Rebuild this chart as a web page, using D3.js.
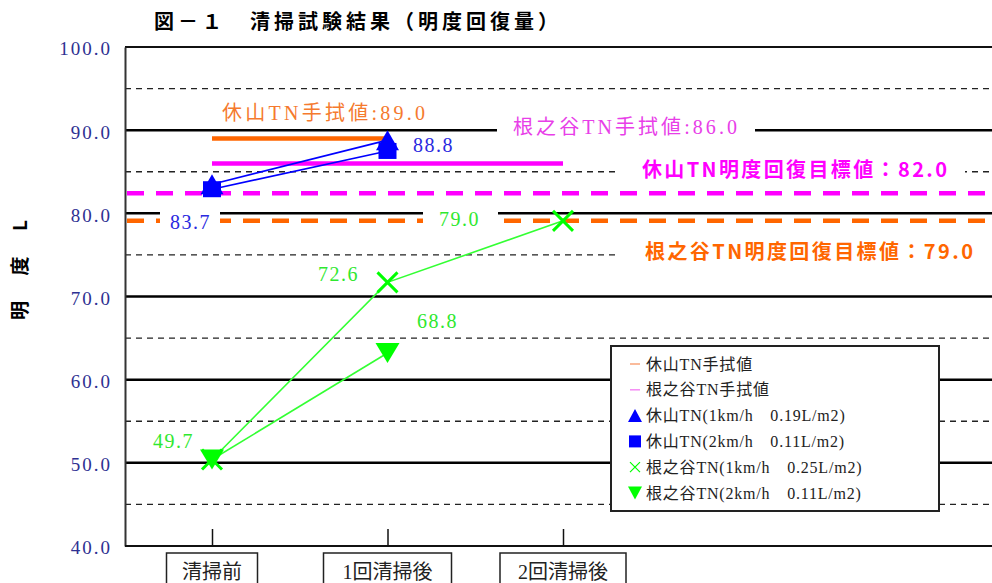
<!DOCTYPE html>
<html>
<head>
<meta charset="utf-8">
<script src="https://cdn.jsdelivr.net/npm/d3@7"></script>
<style>
  html, body { margin: 0; padding: 0; background: #fff; }
  svg { display: block; }
</style>
</head>
<body>
<svg id="chart" width="992" height="583"></svg>
<script>
// data
const categories = ['清掃前', '1回清掃後', '2回清掃後'];
const yTicks = [40, 50, 60, 70, 80, 90, 100];
const yMinor = [45, 55, 65, 75, 85, 95];

const kyuzan1km = [83.5, 88.8];        // 休山TN(1km/h 0.19L/m2)
const kyuzan2km = [82.9, 87.5];        // 休山TN(2km/h 0.11L/m2)
const nenotani1km = [50.4, 71.7, 79.1]; // 根之谷TN(1km/h 0.25L/m2)
const nenotani2km = [50.4, 63.2];      // 根之谷TN(2km/h 0.11L/m2)

const wipeNames = ['休山TN手拭値', '根之谷TN手拭値'];
const wipeValues = [89.0, 86.0];
const wipeSpan = [1, 2]; // last category index reached by each wipe line

const targetNames = ['休山TN明度回復目標値', '根之谷TN明度回復目標値'];
const targetValues = [82.4, 79.1];

const legendLabels = [
    '休山TN手拭値',
    '根之谷TN手拭値',
    '休山TN(1km/h　0.19L/m2)',
    '休山TN(2km/h　0.11L/m2)',
    '根之谷TN(1km/h　0.25L/m2)',
    '根之谷TN(2km/h　0.11L/m2)',
];

const serif = '"Liberation Serif", "Noto Sans CJK JP", serif';
const gothic = '"Noto Sans CJK JP", "DejaVu Sans", sans-serif';

const C = {
    orange: '#ff6600', orangeText: '#f57a2e', orangeLegend: '#f9a57a',
    magenta: '#ff00ff', magentaText: '#e83ee8', magentaLegend: '#f58cf5',
    blue: '#0000ff', blueText: '#2a2ae0',
    green: '#00ff00', greenLine: '#33ff33', greenText: '#2fe82f',
    navy: '#2e3192',
};

const svg = d3.select('#chart');
const plot = { left: 125, right: 992, top: 47, bottom: 546 };

const x = d3.scalePoint()
    .domain(categories)
    .range([212, 563]);

const y = d3.scaleLinear()
    .domain([40, 100])
    .range([plot.bottom, plot.top]);

// title
svg.append('text')
    .attr('x', 154).attr('y', 29)
    .attr('font-family', gothic)
    .attr('font-weight', 'bold')
    .attr('font-size', 20)
    .attr('textLength', 404)
    .attr('lengthAdjust', 'spacing')
    .text('図－１　清掃試験結果（明度回復量）');

// y title
svg.append('text')
    .attr('transform', 'translate(27, 270) rotate(-90)')
    .attr('text-anchor', 'middle')
    .attr('font-family', gothic)
    .attr('font-weight', 'bold')
    .attr('font-size', 19)
    .attr('textLength', 100)
    .attr('lengthAdjust', 'spacing')
    .text('明度L');

// grid
svg.append('g').selectAll('line')
    .data(yMinor)
    .join('line')
    .attr('x1', plot.left).attr('x2', plot.right)
    .attr('y1', d => y(d)).attr('y2', d => y(d))
    .attr('stroke', '#222')
    .attr('stroke-width', 1.3)
    .attr('stroke-dasharray', '6 5');

svg.append('g').selectAll('line')
    .data(yTicks.filter(d => d > 40 && d < 100))
    .join('line')
    .attr('x1', plot.left).attr('x2', plot.right)
    .attr('y1', d => y(d)).attr('y2', d => y(d))
    .attr('stroke', '#000')
    .attr('stroke-width', 2.5);

// top border
svg.append('line')
    .attr('x1', plot.left).attr('x2', plot.right)
    .attr('y1', plot.top).attr('y2', plot.top)
    .attr('stroke', '#111').attr('stroke-width', 2);

// target lines (dashed)
const targetColors = [C.magenta, C.orange];
svg.append('g').selectAll('line')
    .data(targetValues)
    .join('line')
    .attr('x1', plot.left + 2).attr('x2', plot.right)
    .attr('y1', d => y(d)).attr('y2', d => y(d))
    .attr('stroke', (d, i) => targetColors[i])
    .attr('stroke-width', 4.5)
    .attr('stroke-dasharray', '17 12');

// wipe reference lines
const wipeColors = [C.orange, C.magenta];
svg.append('g').selectAll('line')
    .data(wipeValues)
    .join('line')
    .attr('x1', x(categories[0]))
    .attr('x2', (d, i) => x(categories[wipeSpan[i]]))
    .attr('y1', d => y(d)).attr('y2', d => y(d))
    .attr('stroke', (d, i) => wipeColors[i])
    .attr('stroke-width', 4.5);

// text boxes (white fill hides grid behind them)
const boxes = [
    [160, 207, 60, 28],
    [423, 205, 75, 28],
    [497, 114, 258, 28],
    [620, 155, 345, 27],
    [620, 236, 372, 28],
];
svg.append('g').selectAll('rect')
    .data(boxes)
    .join('rect')
    .attr('x', d => d[0]).attr('y', d => d[1])
    .attr('width', d => d[2]).attr('height', d => d[3])
    .attr('fill', '#fff');

const label = (txt, lx, cy, color, opts = {}) => {
    const t = svg.append('text')
        .attr('x', lx).attr('y', cy)
        .attr('dominant-baseline', 'central')
        .attr('font-family', opts.bold ? gothic : serif)
        .attr('font-weight', opts.bold ? 'bold' : 'normal')
        .attr('font-size', opts.size || 20)
        .attr('fill', color)
        .text(txt);
    if (opts.w) t.attr('textLength', opts.w).attr('lengthAdjust', 'spacing');
    else t.attr('letter-spacing', opts.ls == null ? 1.5 : opts.ls);
    return t;
};

label(`${wipeNames[0]}:${wipeValues[0].toFixed(1)}`, 222, 113, C.orangeText, { w: 203 });
label(`${wipeNames[1]}:${wipeValues[1].toFixed(1)}`, 513, 127, C.magentaText, { w: 224 });
label(`${targetNames[0]}：82.0`, 642, 168, C.magenta, { bold: true, size: 20, w: 305 });
label(`${targetNames[1]}：79.0`, 645, 250, C.orange, { bold: true, size: 20, w: 328 });

// series lines
const line = d3.line()
    .x((d, i) => x(categories[i]))
    .y(d => y(d));

const series = [
    { vals: kyuzan1km, color: C.blue },
    { vals: kyuzan2km, color: C.blue },
    { vals: nenotani1km, color: C.greenLine },
    { vals: nenotani2km, color: C.greenLine },
];
svg.append('g').selectAll('path')
    .data(series)
    .join('path')
    .attr('d', d => line(d.vals))
    .attr('fill', 'none')
    .attr('stroke', d => d.color)
    .attr('stroke-width', 1.6);

// markers
const triUp = (w, h) => `M0,${-h / 2}L${w / 2},${h / 2}L${-w / 2},${h / 2}Z`;
const triDown = (w, h) => `M0,${h / 2}L${w / 2},${-h / 2}L${-w / 2},${-h / 2}Z`;

svg.append('g').selectAll('path')
    .data(kyuzan1km)
    .join('path')
    .attr('transform', (d, i) => `translate(${x(categories[i])},${y(d)})`)
    .attr('d', triUp(23, 20))
    .attr('fill', C.blue);

svg.append('g').selectAll('rect')
    .data(kyuzan2km)
    .join('rect')
    .attr('x', (d, i) => x(categories[i]) - 9)
    .attr('y', d => y(d) - 8)
    .attr('width', 18).attr('height', 16)
    .attr('fill', C.blue);

svg.append('g').selectAll('path')
    .data(nenotani2km)
    .join('path')
    .attr('transform', (d, i) => `translate(${x(categories[i])},${y(d)})`)
    .attr('d', triDown(24, 20))
    .attr('fill', C.green);

svg.append('g').selectAll('path')
    .data(nenotani1km)
    .join('path')
    .attr('transform', (d, i) => `translate(${x(categories[i])},${y(d)})`)
    .attr('d', 'M-10,-10L10,10M-10,10L10,-10')
    .attr('stroke', C.green)
    .attr('stroke-width', 3)
    .attr('fill', 'none');

// data labels
label(kyuzan1km[1].toFixed(1), 413, 145, C.blueText);
label('83.7', 170, 222, C.blueText);
label('79.0', 439, 219, C.greenText);
label('72.6', 318, 274, C.greenText);
label('68.8', 417, 321, C.greenText);
label('49.7', 153, 441, C.greenText);

// y axis
const yAxis = svg.append('g')
    .attr('transform', `translate(${plot.left},0)`)
    .call(d3.axisLeft(y).tickValues(yTicks).tickFormat(d3.format('.1f')).tickSize(0).tickPadding(13));
yAxis.select('.domain').attr('stroke', '#333').attr('stroke-width', 2);
yAxis.selectAll('text')
    .attr('font-family', serif)
    .attr('font-size', 19)
    .attr('letter-spacing', 2)
    .attr('fill', C.navy)
    .attr('dy', '0.42em');

// x axis
const xAxis = svg.append('g')
    .attr('transform', `translate(0,${plot.bottom})`)
    .call(d3.axisBottom(x).tickSize(-17).tickFormat(''));
xAxis.select('.domain').attr('d', `M${plot.left},0H${plot.right}`)
    .attr('stroke', '#111').attr('stroke-width', 2);
xAxis.selectAll('.tick line').attr('stroke', '#111').attr('stroke-width', 1.5);

const catBoxW = [91, 128, 126];
const catG = svg.append('g').selectAll('g')
    .data(categories)
    .join('g')
    .attr('transform', d => `translate(${x(d)},0)`);
catG.append('rect')
    .attr('x', (d, i) => -catBoxW[i] / 2)
    .attr('y', 553)
    .attr('width', (d, i) => catBoxW[i])
    .attr('height', 40)
    .attr('fill', '#fff')
    .attr('stroke', '#222')
    .attr('stroke-width', 1.5);
catG.append('text')
    .attr('y', 572)
    .attr('dominant-baseline', 'central')
    .attr('text-anchor', 'middle')
    .attr('font-family', serif)
    .attr('font-size', 20)
    .attr('fill', '#222')
    .text(d => d);

// legend
const leg = svg.append('g').attr('transform', 'translate(611,346)');
leg.append('rect')
    .attr('width', 328).attr('height', 165)
    .attr('fill', '#fff')
    .attr('stroke', '#222')
    .attr('stroke-width', 2);

const legItems = leg.selectAll('g.item')
    .data(legendLabels)
    .join('g')
    .attr('class', 'item')
    .attr('transform', (d, i) => `translate(24,${18 + i * 25.8})`);

legItems.append('text')
    .attr('x', 11)
    .attr('dominant-baseline', 'central')
    .attr('font-family', serif)
    .attr('font-size', 16)
    .attr('letter-spacing', 0.8)
    .attr('fill', '#222')
    .text(d => d);

legItems.each(function (d, i) {
    const g = d3.select(this);
    if (i === 0 || i === 1) {
        g.append('line').attr('x1', -5).attr('x2', 5)
            .attr('stroke', i === 0 ? C.orangeLegend : C.magentaLegend)
            .attr('stroke-width', 1.5);
    } else if (i === 2) {
        g.append('path').attr('d', triUp(14, 13)).attr('fill', C.blue);
    } else if (i === 3) {
        g.append('rect').attr('x', -6).attr('y', -6).attr('width', 12).attr('height', 12).attr('fill', C.blue);
    } else if (i === 4) {
        g.append('path').attr('d', 'M-5,-5L5,5M-5,5L5,-5')
            .attr('stroke', C.green).attr('stroke-width', 1.2);
    } else {
        g.append('path').attr('d', triDown(14, 13)).attr('fill', C.green);
    }
});
</script>
</body>
</html>
